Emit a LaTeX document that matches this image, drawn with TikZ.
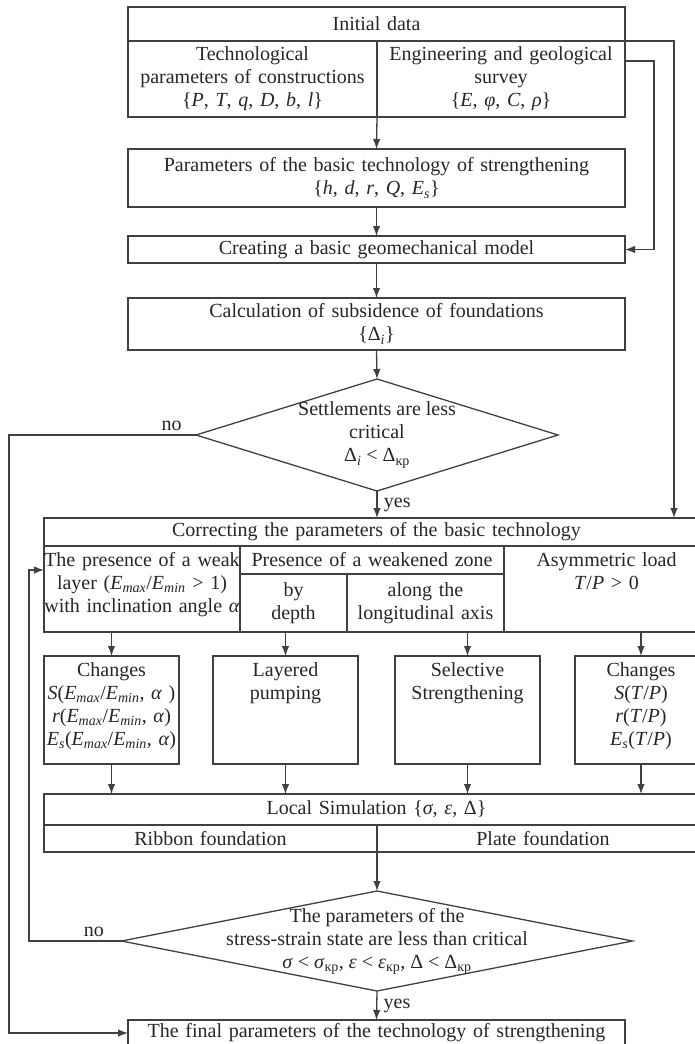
\documentclass[tikz,border=0pt]{standalone}
\usepackage{fontspec}
\setmainfont{Liberation Serif}
\usetikzlibrary{arrows.meta,shapes.geometric}

\newcommand{\vv}[1]{\textit{#1}}
\newcommand{\sub}[1]{\textsubscript{#1}}
\newcommand{\kr}{\textsubscript{кр}}

\begin{document}
\begin{tikzpicture}[x=1pt,y=-1pt,
    font=\fontsize{20}{23}\selectfont,text=black!85,
    line/.style={draw=black!75,line width=1.3pt},
    cell/.style={line,rectangle,anchor=north west,inner sep=0pt,outer sep=0pt,align=center},
    dia/.style={line,diamond,inner sep=0pt,outer sep=0pt},
    arr/.style={line,-{Latex[length=10pt,width=7.5pt]}}]
      \useasboundingbox (0,0) rectangle (694,1044);
      % input data
      \node[cell,text width=497pt,minimum height=34pt] (init) at (128,7) {Initial data};
      \node[cell,text width=249pt,minimum height=76pt] (techpar) at (128,41) {Technological\\parameters of constructions\\\{\vv{P}, \vv{T}, \vv{q}, \vv{D}, \vv{b}, \vv{l}\}};
      \node[cell,text width=248pt,minimum height=76pt] (geosurv) at (377,41) {Engineering and geological\\survey\\\{\vv{E}, \vv{φ}, \vv{C}, \vv{ρ}\}};
      \node[cell,text width=497pt,minimum height=58pt] (basepar) at (128,149) {Parameters of the basic technology of strengthening\\\{\vv{h}, \vv{d}, \vv{r}, \vv{Q}, \vv{E}\sub{\vv{s}}\}};
      \node[cell,text width=497pt,minimum height=27pt] (geomodel) at (128,236) {Creating a basic geomechanical model};
      \node[cell,text width=497pt,minimum height=52pt] (subsid) at (128,298) {Calculation of subsidence of foundations\\\{Δ\sub{\vv{i}}\}};
      \node[dia,minimum width=362pt,minimum height=112pt] (settle) at (377,435) {};
      \node[align=center] (settletxt) at (settle) {Settlements are less\\critical\\Δ\sub{\vv{i}} < Δ\kr};
      % correction of the technology
      \node[cell,text width=665pt,minimum height=28pt] (correct) at (44,518) {Correcting the parameters of the basic technology};
      \node[cell,text width=196pt,text height=20pt,text depth=66pt] (weak) at (44,546) {The presence of a weak\\layer (\vv{E}\sub{\vv{max}}/\vv{E}\sub{\vv{min}} > 1)\\with inclination angle \vv{α}};
      \node[cell,text width=264pt,minimum height=28pt] (zone) at (240,546) {Presence of a weakened zone};
      \node[cell,text width=107pt,minimum height=58pt] (depth) at (240,574) {by\\depth};
      \node[cell,text width=157pt,minimum height=58pt] (axis) at (347,574) {along the\\longitudinal axis};
      \node[cell,text width=205pt,text height=20pt,text depth=66pt] (asym) at (504,546) {Asymmetric load\\\vv{T}/\vv{P} > 0};
      \node[cell,text width=135pt,text height=20pt,text depth=88pt] (chg1) at (44,656) {Changes\\\vv{S}(\vv{E}\sub{\vv{max}}/\vv{E}\sub{\vv{min}}, \vv{α} )\\\vv{r}(\vv{E}\sub{\vv{max}}/\vv{E}\sub{\vv{min}}, \vv{α})\\\vv{E}\sub{\vv{s}}(\vv{E}\sub{\vv{max}}/\vv{E}\sub{\vv{min}}, \vv{α})};
      \node[cell,text width=145pt,text height=20pt,text depth=88pt] (pump) at (213,656) {Layered\\pumping};
      \node[cell,text width=145pt,text height=20pt,text depth=88pt] (select) at (395,656) {Selective\\Strengthening};
      \node[cell,text width=132pt,text height=20pt,text depth=88pt] (chg2) at (575,656) {Changes\\\vv{S}(\vv{T}/\vv{P})\\\vv{r}(\vv{T}/\vv{P})\\\vv{E}\sub{\vv{s}}(\vv{T}/\vv{P})};
      % simulation and check
      \node[cell,text width=665pt,minimum height=31pt] (sim) at (44,794) {Local Simulation \{\vv{σ}, \vv{ε}, Δ\}};
      \node[cell,text width=333pt,minimum height=27pt] (ribbon) at (44,825) {Ribbon foundation};
      \node[cell,text width=332pt,minimum height=27pt] (plate) at (377,825) {Plate foundation};
      \node[dia,minimum width=511pt,minimum height=100pt] (crit) at (377,941) {};
      \node[align=center] (crittxt) at (crit) {The parameters of the\\stress-strain state are less than critical\\\vv{σ} < \vv{σ}\kr, \vv{ε} < \vv{ε}\kr, Δ < Δ\kr};
      \node[cell,text width=497pt,minimum height=26pt] (final) at (128,1020) {The final parameters of the technology of strengthening};
      % connectors
      \coordinate (outx) at (674,41);
      \coordinate (inx) at (654,61);
      \coordinate (nox) at (9,435);
      \coordinate (backx) at (29,570);
      \draw[arr] (techpar.south east) -- (basepar.north);
      \draw[arr] (basepar.south) -- (geomodel.north);
      \draw[arr] (geomodel.south) -- (subsid.north);
      \draw[arr] (subsid.south) -- (settle.north);
      \draw[arr] (settle.south) -- node[right,xshift=3pt]{yes} (settle.south |- correct.north);
      \draw[arr] (init.south east) -- (outx) -- (outx |- correct.north);
      \draw[arr] (geosurv.east |- inx) -- (inx) |- (geomodel.east);
      \draw[arr] (settle.west) -- node[above,pos=0.13]{no} (nox) |- (final.west);
      \foreach \src/\dst in {weak/chg1,depth/pump,axis/select,asym/chg2}
      \draw[arr] (\src.south -| \dst.north) -- (\dst.north);
      \foreach \src in {chg1,pump,select,chg2}
      \draw[arr] (\src.south) -- (\src.south |- sim.north);
      \draw[arr] (ribbon.south east) -- (crit.north);
      \draw[arr] (crit.west) -- node[above,pos=0.3]{no} (crit.west -| backx) -- (backx) -- (weak.west |- backx);
      \draw[arr] (crit.south) -- node[right,xshift=3pt]{yes} (final.north);
    \end{tikzpicture}
\end{document}
